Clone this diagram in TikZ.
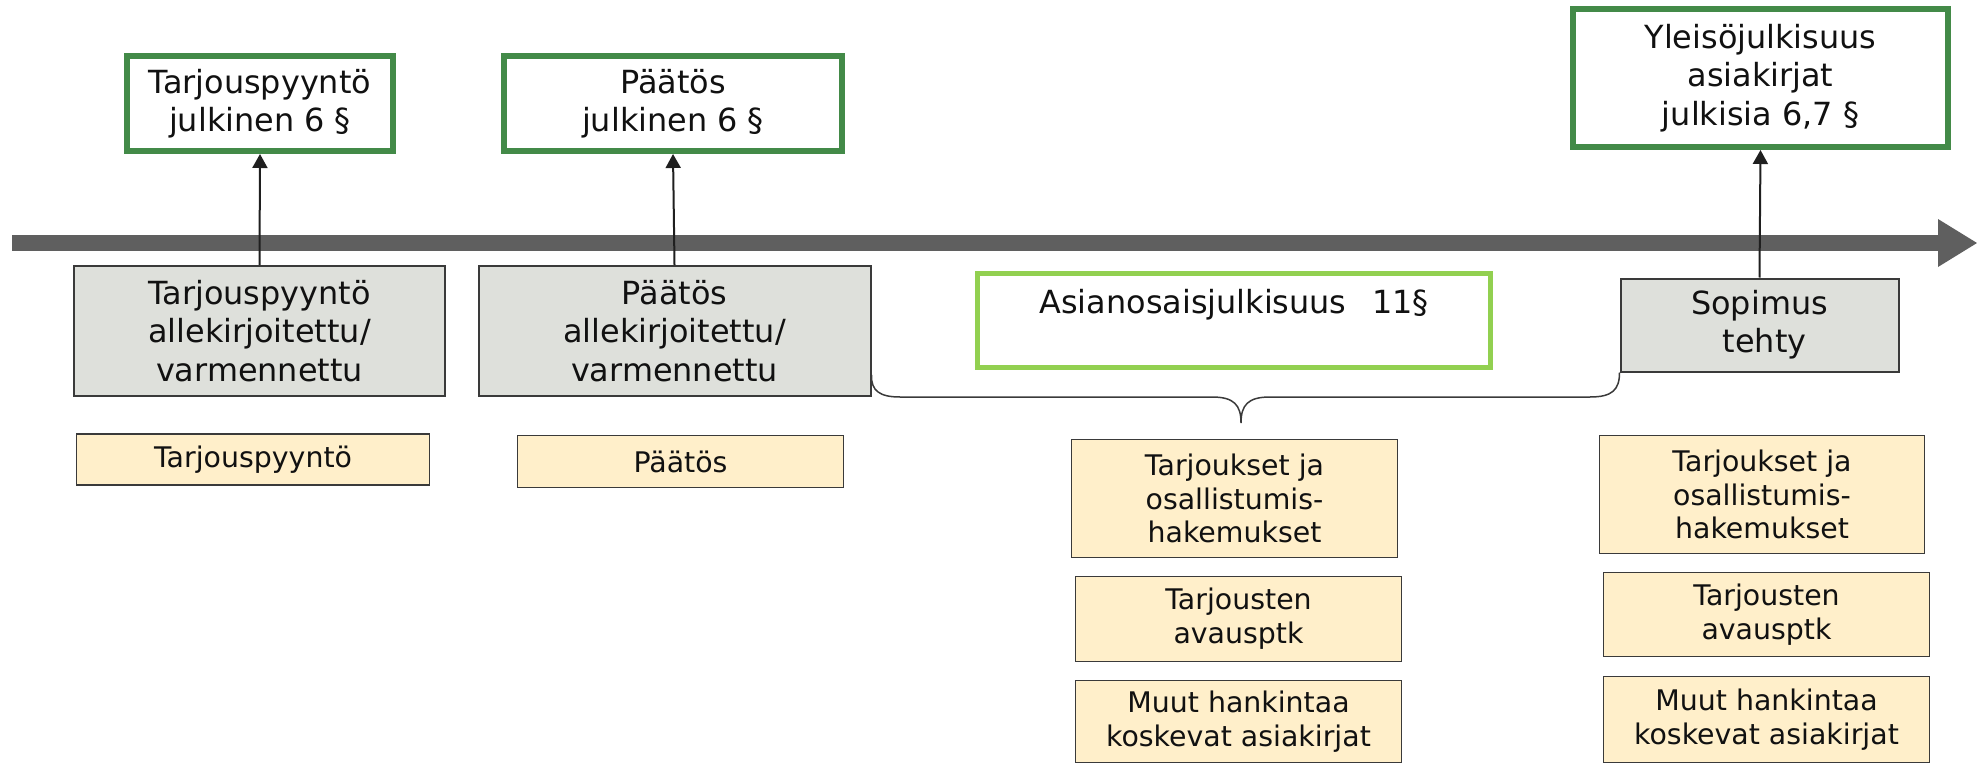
\documentclass[tikz,border=0pt]{standalone}
\usepackage{fontspec}
\setmainfont{DejaVu Sans}
\usetikzlibrary{arrows.meta}
\definecolor{dkgreen}{HTML}{438A48}
\definecolor{ltgreen}{HTML}{92D050}
\definecolor{grayfill}{HTML}{DEE0DB}
\definecolor{docfill}{HTML}{FFEFCA}
\definecolor{tlgray}{HTML}{5F5F5F}
\definecolor{boxline}{HTML}{3A3A3A}
\definecolor{txt}{HTML}{111111}
\begin{document}
\begin{tikzpicture}[x=1bp,y=-1bp,
  every node/.style={text=txt},
  greenbox/.style={draw=dkgreen,line width=6bp,fill=white,inner sep=0pt,align=center,font=\fontsize{32}{38.5}\selectfont},
  lgbox/.style={draw=ltgreen,line width=5bp,fill=white,inner sep=0pt,align=center,font=\fontsize{32}{38.5}\selectfont},
  graybox/.style={draw=boxline,line width=2bp,fill=grayfill,inner sep=0pt,align=center,font=\fontsize{32}{38.5}\selectfont},
  docbox/.style={draw=boxline,line width=1.5bp,fill=docfill,inner sep=0pt,align=center,font=\fontsize{28.5}{34}\selectfont},
  conn/.style={draw=black!88,line width=2bp,-{Triangle[length=14bp,width=15bp]}},
  brace/.style={draw=boxline,line width=1.5bp}]
\useasboundingbox (0,0) rectangle (1977,764);
% timeline
\fill[tlgray] (12,235) rectangle (1939,251);
\fill[tlgray] (1938,219) -- (1977,243) -- (1938,267) -- cycle;
% top green boxes
\node[greenbox,minimum width=266bp,minimum height=95bp] (G1) at (260,103.5) {Tarjouspyyntö\\julkinen 6 §};
\node[greenbox,minimum width=338bp,minimum height=95bp] (G2) at (673,103.5) {Päätös\\julkinen 6 §};
\node[greenbox,minimum width=375bp,minimum height=138bp] (G3) at (1760.5,78) {Yleisöjulkisuus\\asiakirjat\\julkisia 6,7 §};
% gray event boxes
\node[graybox,minimum width=371bp,minimum height=130bp] (g1) at (259.5,331) {Tarjouspyyntö\\allekirjoitettu/\\varmennettu};
\node[graybox,minimum width=392bp,minimum height=130bp] (g2) at (674.5,331) {Päätös\\allekirjoitettu/\\varmennettu};
\node[graybox,minimum width=278bp,minimum height=93bp] (sop) at (1759.5,325) {Sopimus\\\hspace*{0.32em}tehty};
% party publicity
\node[lgbox,minimum width=513bp,minimum height=94bp] (asia) at (1234,320.5) {Asianosaisjulkisuus\hspace{0.8em}11§\\\mbox{}};
% brace
\draw[brace] (g2.east |- 0,375) .. controls (871,391) and (880,397) .. (900,397)
  -- (1212,397) .. controls (1234,397) and (1241,405) .. (1241,423)
  .. controls (1241,405) and (1248,397) .. (1270,397)
  -- (1590,397) .. controls (1612,397) and (sop.south west |- 0,390) .. (sop.south west);
% connectors
\draw[conn] (g1.north) -- (G1.south);
\draw[conn] (g2.north) -- (G2.south);
\draw[conn] (sop.north) -- (G3.south);
% document boxes
\node[docbox,minimum width=353bp,minimum height=51bp] (d1) at (253,459.5) {Tarjouspyyntö};
\node[docbox,minimum width=326bp,minimum height=52bp] (d2) at (680.5,461.5) {Päätös};
\node[docbox,minimum width=326bp,minimum height=118bp] (d3) at (1234.5,498.5) {Tarjoukset ja\\osallistumis-\\hakemukset};
\node[docbox,minimum width=326bp,minimum height=85bp] (d4) at (1238.5,619) {Tarjousten\\avausptk};
\node[docbox,minimum width=326bp,minimum height=82bp] (d5) at (1238.5,721.5) {Muut hankintaa\\koskevat asiakirjat};
\node[docbox,minimum width=325bp,minimum height=118bp] (d6) at (1762,494.5) {Tarjoukset ja\\osallistumis-\\hakemukset};
\node[docbox,minimum width=326bp,minimum height=84bp] (d7) at (1766.5,614.5) {Tarjousten\\avausptk};
\node[docbox,minimum width=326bp,minimum height=86bp] (d8) at (1766.5,719.5) {Muut hankintaa\\koskevat asiakirjat};
\end{tikzpicture}
\end{document}
